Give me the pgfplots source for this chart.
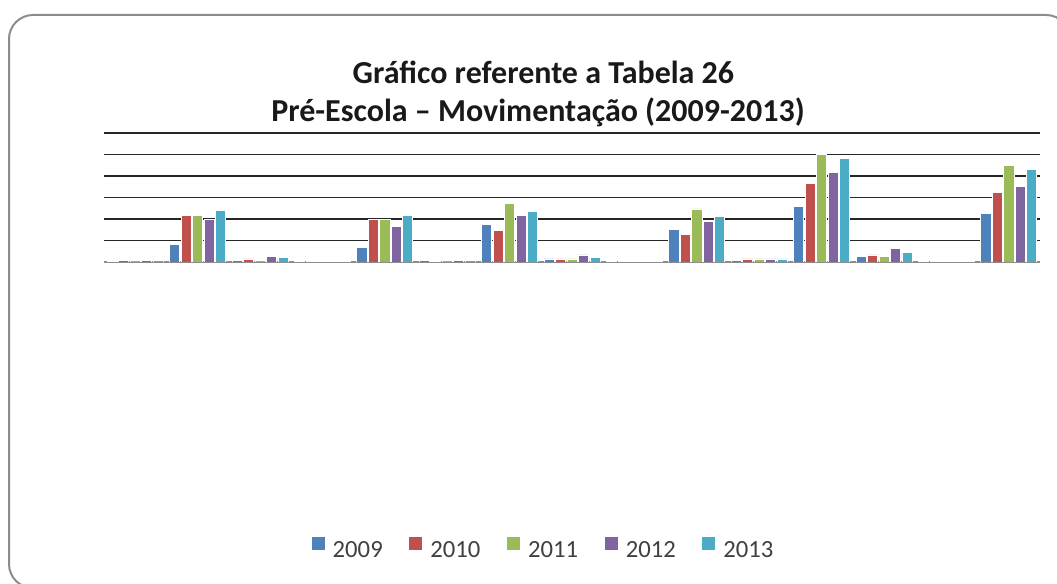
\documentclass[border=0pt]{standalone}
\usepackage{pgfplots}
\pgfplotsset{compat=1.18}
\usepackage{pgfplotstable}
\usepackage{fontspec}
\setmainfont{Carlito}

\definecolor{c2009}{HTML}{4F81BD}
\definecolor{c2010}{HTML}{C0504D}
\definecolor{c2011}{HTML}{9BBB59}
\definecolor{c2012}{HTML}{8064A2}
\definecolor{c2013}{HTML}{4BACC6}
\definecolor{frame}{HTML}{8C8C8C}
\definecolor{legtext}{HTML}{404040}

% heights, in grid-line units
\pgfplotstableread{
x  a     b     c     d     e
0  0.03  0.08  0.08  0.08  0.08
1  0.81  2.18  2.18  1.98  2.41
2  0.08  0.14  0.08  0.26  0.20
3  0.02  0.02  0.02  0.02  0.02
4  0.68  1.98  1.98  1.65  2.18
5  0.08  0.03  0.08  0.08  0.08
6  1.76  1.46  2.72  2.18  2.35
7  0.14  0.14  0.14  0.33  0.20
8  0.02  0.02  0.02  0.02  0.02
9  1.51  1.29  2.47  1.87  2.12
10 0.08  0.14  0.14  0.14  0.14
11 2.60  3.67  5.00  4.15  4.82
12 0.26  0.33  0.26  0.62  0.45
13 0.02  0.02  0.02  0.02  0.02
14 2.24  3.25  4.51  3.50  4.32
}\dados

\begin{document}
\begin{tikzpicture}
\useasboundingbox (0,0) rectangle (792.75pt,438pt);
\clip (0,0) rectangle (792.75pt,438pt);
\draw[frame, line width=1.5pt, rounded corners=18pt] (6.75pt,-3pt) rectangle (802.5pt,426.75pt);

\node[anchor=base, font=\bfseries\fontsize{24}{28}\selectfont, text=black!90] at (407.6pt,375.5pt) {Gráfico referente a Tabela 26};
\node[anchor=base, font=\bfseries\fontsize{24}{28}\selectfont, text=black!90] at (403.5pt,346.7pt) {Pré-Escola – Movimentação (2009-2013)};

\begin{axis}[
    at={(78pt,241.5pt)}, anchor=south west,
    scale only axis, width=702pt, height=96.75pt,
    xmin=-0.5, xmax=14.5, ymin=0, ymax=6,
    axis line style={draw=none},
    xtick=\empty, ytick={1,2,3,4,5,6}, yticklabels={},
    extra y ticks={0}, extra y tick labels={},
    extra y tick style={grid=major, major grid style={gray!90, line width=1.5pt}},
    major tick length=0pt,
    ymajorgrids, major grid style={black!85, line width=1.1pt},
    ybar=1pt, bar width=7.6pt,
    every axis plot/.append style={draw=white, line width=0.5pt},
    legend columns=5,
    legend style={at={(rel axis cs:0.470,-2.233)}, anchor=center, draw=none,
        font=\fontsize{18.5}{22}\selectfont, text=legtext,
        /tikz/every odd column/.append style={column sep=4pt},
        /tikz/every even column/.append style={column sep=18pt}},
    legend image code/.code={\fill[#1,draw=none] (0pt,0.04em) rectangle (9.75pt,{0.04em+9.75pt});},
]
\addplot[fill=c2009] table[x=x, y=a] {\dados};
\addplot[fill=c2010] table[x=x, y=b] {\dados};
\addplot[fill=c2011] table[x=x, y=c] {\dados};
\addplot[fill=c2012] table[x=x, y=d] {\dados};
\addplot[fill=c2013] table[x=x, y=e] {\dados};
\legend{2009,2010,2011,2012,2013}
\end{axis}
\end{tikzpicture}
\end{document}
